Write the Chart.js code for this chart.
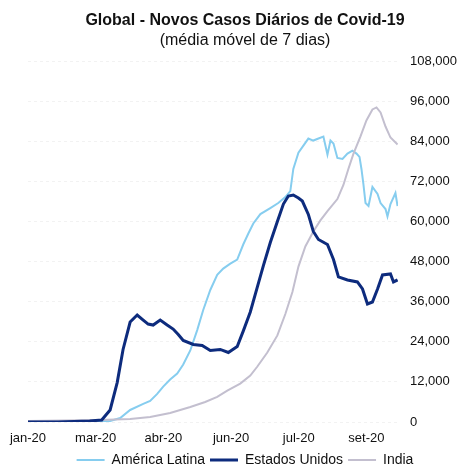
<!DOCTYPE html>
<html>
<head>
<meta charset="utf-8">
<script src="https://cdn.jsdelivr.net/npm/chart.js@4.4.0/dist/chart.umd.min.js"></script>
<style>
  html, body { margin: 0; padding: 0; background: #fff; }
  #wrap { width: 462px; height: 468px; }
</style>
</head>
<body>
<div id="wrap"><canvas id="c"></canvas></div>
<script>
// x = days since 22 Jan 2020, tick every 45 days
const tickLabels = ['jan-20', 'mar-20', 'abr-20', 'jun-20', 'jul-20', 'set-20'];

const latamDays = [0, 50, 54.6, 61.3, 67.9, 76.6, 81.2, 85.9, 89.9, 94.5, 99.2, 103.2, 107.9, 112.5, 116.5,
  121.2, 125.8, 129.8, 134.5, 139.1, 143.1, 146.5, 149.8, 154.5, 161.1, 166.4, 171.1, 174.4, 176.4, 179.8,
  183.1, 186.4, 189.7, 193.1, 196.4, 199.1, 201.1, 203.1, 205.7, 209.1, 212.4, 215.7, 218.4, 220.4, 221.7,
  223.0, 224.4, 226.4, 229.0, 232.4, 234.4, 237.7, 239.0, 241.0, 244.3, 245.7];
const latamCases = [0, 200, 300, 1200, 3600, 5400, 6300, 8400, 10600, 12700, 14500, 17200, 21400, 27500, 33500,
  39500, 44000, 45900, 47400, 48600, 53100, 56400, 59400, 62200, 64000, 65500, 67300, 69100, 75700, 80600,
  82700, 84800, 84200, 84800, 85400, 80000, 84200, 83300, 79000, 78700, 80300, 81200, 80300, 79300, 75700,
  71200, 65500, 64600, 70300, 68200, 65500, 63700, 61500, 65200, 68500, 64600];

const usDays = [0, 20, 41, 49, 54.6, 59.3, 63.2, 67.9, 72.6, 76.6, 79.9, 83.2, 87.9, 92.5, 96.5, 99.9, 103.2,
  109.9, 115.8, 121.2, 127.8, 133.2, 139.1, 143.1, 147.8, 152.5, 156.5, 161.1, 165.8, 169.8, 173.1, 176.4,
  179.8, 182.4, 186.4, 189.7, 193.1, 199.1, 203.1, 206.4, 212.4, 219.0, 222.4, 225.7, 229.0, 232.4, 235.7,
  241.0, 243.0, 245.7];
const usCases = [0, 0, 300, 600, 3600, 11800, 21700, 29900, 32000, 30500, 29300, 29000, 30500, 29000, 27800, 26200, 24400,
  23200, 22900, 21400, 21700, 20800, 22600, 27200, 32900, 40400, 46800, 53700, 60000, 65200, 67600, 67900,
  67000, 66100, 62100, 57000, 54600, 53100, 48600, 43400, 42500, 41900, 39800, 35300, 35900, 39800, 44000,
  44300, 41900, 42500];

const indiaDays = [0, 47.9, 67.9, 81.2, 94.5, 107.9, 117.8, 125.8, 132.5, 141.1, 147.8, 152.5, 159.1, 165.8,
  171.1, 175.8, 179.8, 184.4, 189.7, 194.4, 199.1, 205.7, 209.7, 213.0, 216.4, 221.0, 225.0, 229.0, 231.7,
  234.4, 237.7, 241.0, 245.7];
const indiaCases = [300, 600, 900, 1500, 2700, 4500, 6000, 7500, 9400, 11500, 13900, 16600, 20800, 25900,
  32300, 38900, 46500, 52500, 57000, 60300, 63100, 66700, 70900, 75700, 80300, 85400, 90200, 93500, 94100,
  92600, 88400, 85100, 83000];

const seriesNames = ['América Latina', 'Estados Unidos', 'India'];

function pts(days, vals) {
  return days.map((d, i) => ({ x: d, y: vals[i] }));
}

new Chart(document.getElementById('c'), {
  type: 'line',
  data: {
    datasets: [
      {
        label: seriesNames[0],
        data: pts(latamDays, latamCases),
        borderColor: '#86cdef',
        backgroundColor: '#86cdef',
        borderWidth: 2,
        pointRadius: 0,
        pointStyle: 'line',
        order: 3
      },
      {
        label: seriesNames[1],
        data: pts(usDays, usCases),
        borderColor: '#0d2b7d',
        backgroundColor: '#0d2b7d',
        borderWidth: 3,
        pointRadius: 0,
        pointStyle: 'line',
        order: 1
      },
      {
        label: seriesNames[2],
        data: pts(indiaDays, indiaCases),
        borderColor: '#c3bfcf',
        backgroundColor: '#c3bfcf',
        borderWidth: 2,
        pointRadius: 0,
        pointStyle: 'line',
        order: 2
      }
    ]
  },
  options: {
    responsive: true,
    maintainAspectRatio: false,
    animation: false,
    layout: { padding: { left: 28, right: 0, top: 0, bottom: -9 } },
    plugins: {
      title: {
        display: true,
        text: 'Global - Novos Casos Diários de Covid-19',
        color: '#111',
        font: { family: 'Liberation Sans', size: 16, weight: 'bold' },
        padding: { top: 11, bottom: 0 }
      },
      subtitle: {
        display: true,
        text: '(média móvel de 7 dias)',
        color: '#111',
        font: { family: 'Liberation Sans', size: 16 },
        padding: { top: 1, bottom: 10.6 }
      },
      legend: {
        position: 'bottom',
        labels: {
          usePointStyle: true,
          pointStyleWidth: 28,
          boxWidth: 28,
          padding: 5,
          color: '#111',
          font: { family: 'Liberation Sans', size: 14 },
          sort: (a, b) => a.datasetIndex - b.datasetIndex
        }
      },
      tooltip: { enabled: false }
    },
    scales: {
      x: {
        type: 'linear',
        min: 0,
        max: 246,
        grid: { display: false, drawTicks: false },
        border: { display: false },
        afterFit: (s) => { s.height = 26; },
        ticks: {
          stepSize: 45,
          includeBounds: false,
          padding: 9,
          maxRotation: 0,
          color: '#111',
          font: { family: 'Liberation Sans', size: 13 },
          callback: (v) => tickLabels[Math.round(v / 45)]
        }
      },
      y: {
        position: 'right',
        min: 0,
        max: 108000,
        afterFit: (s) => { s.width = 64; },
        grid: { color: '#f2f2f2', drawTicks: false },
        border: { display: false, dash: [3, 3] },
        ticks: {
          stepSize: 12000,
          padding: 12,
          color: '#111',
          font: { family: 'Liberation Sans', size: 13 },
          callback: (v) => v.toLocaleString('en-US')
        }
      }
    }
  }
});
</script>
</body>
</html>
